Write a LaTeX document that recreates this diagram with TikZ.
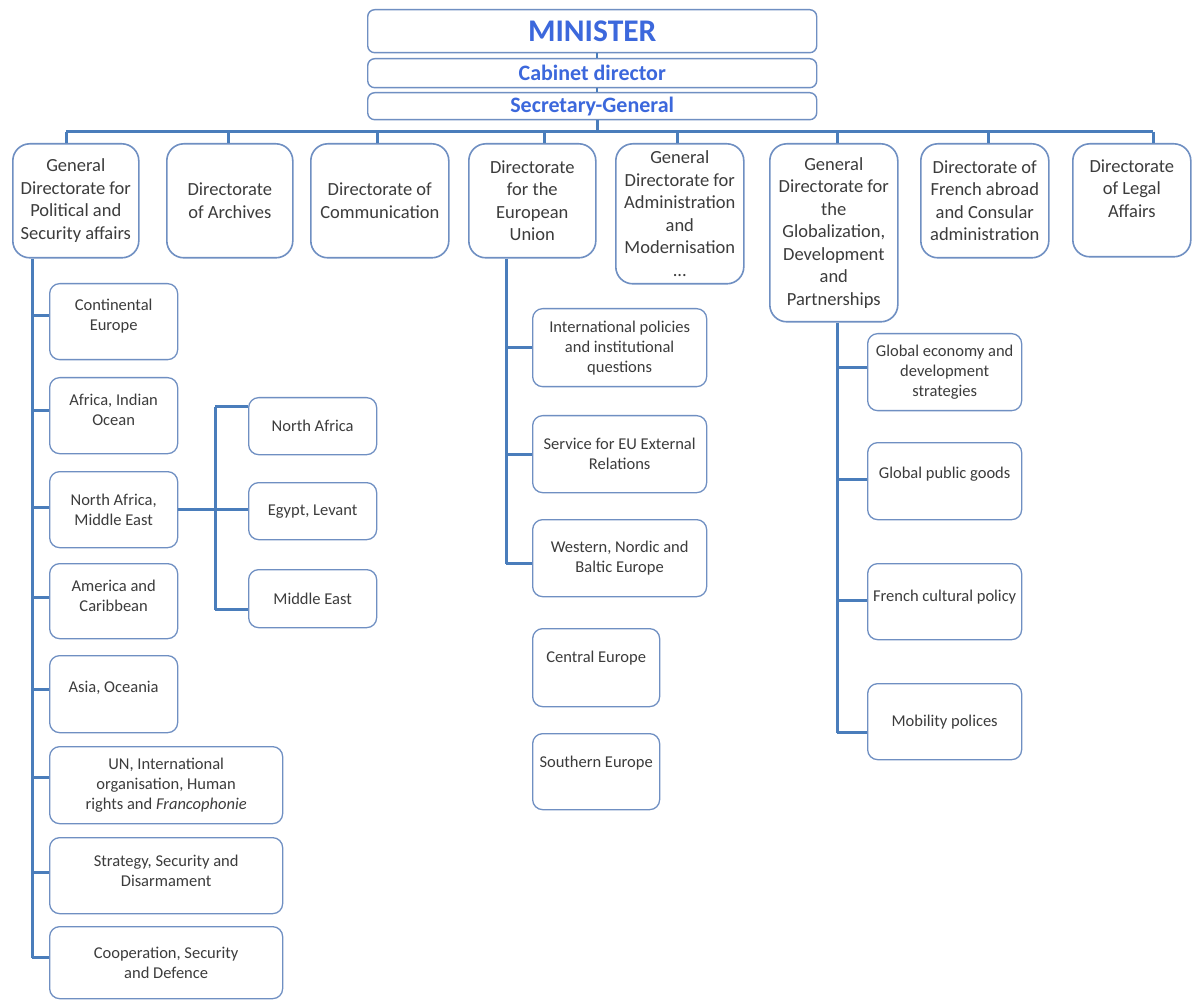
\documentclass[tikz,border=0pt]{standalone}
\usepackage{fontspec}
\setmainfont{Carlito}
\definecolor{linkblue}{HTML}{4A7DBB}
\definecolor{boxblue}{HTML}{6F8FC2}
\definecolor{headblue}{HTML}{3C68DC}
\definecolor{txtgray}{HTML}{3C3C3C}
\begin{document}
\begin{tikzpicture}[x=1pt,y=-1pt,
  link/.style={draw=linkblue, line width=3pt},
  thinlink/.style={draw=linkblue, line width=2pt},
  headbox/.style={draw=boxblue, line width=1.4pt, rounded corners=7pt, anchor=north west,
    inner sep=0pt, text=headblue, minimum width=449pt},
  dirbox/.style={draw=boxblue, line width=1.6pt, rounded corners=17pt, anchor=north west,
    inner sep=0pt, align=center, text=txtgray, font=\fontsize{18.5}{22.5}\selectfont},
  subbox/.style={draw=boxblue, line width=1.3pt, rounded corners=10pt, anchor=north west,
    inner sep=0pt, align=center, text=txtgray, font=\fontsize{16.5}{20}\selectfont},
  lift/.style={text depth=#1},
  box/.style 2 args={minimum width=#1pt, minimum height=#2pt}
]
\useasboundingbox (0,0) rectangle (1195,1000);
\fill[white] (0,0) rectangle (1195,1000);

% ---- head of the ministry
\node[headbox, minimum height=43pt, font=\fontsize{31.5}{36}\selectfont\bfseries] (min) at (367,9) {MINISTER};
\node[headbox, minimum height=29pt, font=\fontsize{22}{26}\selectfont\bfseries] (cab) at (367,58) {Cabinet director};
\node[headbox, minimum height=27pt, font=\fontsize{22}{26}\selectfont\bfseries] (sg) at (367,92) {Secretary-General};

% ---- directorates
\node[dirbox, box={126}{114}] (d1) at (12,143) {General\\Directorate for\\Political and\\Security affairs};
\node[dirbox, box={126}{114}] (d2) at (166,143) {Directorate\\of Archives};
\node[dirbox, box={138}{114}] (d3) at (310,143) {Directorate of\\Communication};
\node[dirbox, box={127}{114}] (d4) at (468,143) {Directorate\\for the\\European\\Union};
\node[dirbox, box={128}{140}] (d5) at (615,143) {General\\Directorate for\\Administration\\and\\Modernisation\\...};
\node[dirbox, box={128}{178}] (d6) at (769,143) {General\\Directorate for\\the\\Globalization,\\Development\\and\\Partnerships};
\node[dirbox, box={128}{114}] (d7) at (920,143) {Directorate of\\French abroad\\and Consular\\administration};
\node[dirbox, box={118}{113}, lift=24pt] (d8) at (1072,143) {Directorate\\of Legal\\Affairs};

% ---- political and security affairs
\node[subbox, box={128}{76}, lift=14pt] (s1) at (49,283) {Continental\\Europe};
\node[subbox, box={128}{76}, lift=12pt] (s2) at (49,377) {Africa, Indian\\Ocean};
\node[subbox, box={128}{76}] (s3) at (49,471) {North Africa,\\Middle East};
\node[subbox, box={128}{75}, lift=10pt] (s4) at (49,563) {America and\\Caribbean};
\node[subbox, box={128}{77}, lift=14pt] (s5) at (49,655) {Asia, Oceania};
\node[subbox, box={233}{77}] (s6) at (49,746) {UN, International\\organisation, Human\\rights and \textit{Francophonie}};
\node[subbox, box={233}{76}, lift=10pt] (s7) at (49,837) {Strategy, Security and\\Disarmament};
\node[subbox, box={233}{72}] (s8) at (49,926) {Cooperation, Security\\and Defence};

\node[subbox, box={128}{57}] (n1) at (248,397) {North Africa};
\node[subbox, box={128}{57}] (n2) at (248,482) {Egypt, Levant};
\node[subbox, box={128}{58}] (n3) at (248,569) {Middle East};

% ---- European Union
\node[subbox, box={174}{78}] (e1) at (532,308) {International policies\\and institutional\\questions};
\node[subbox, box={174}{77}] (e2) at (532,415) {Service for EU External\\Relations};
\node[subbox, box={174}{77}] (e3) at (532,519) {Western, Nordic and\\Baltic Europe};
\node[subbox, box={127}{78}, lift=22pt] (e4) at (532,628) {Central Europe};
\node[subbox, box={127}{76}, lift=20pt] (e5) at (532,733) {Southern Europe};

% ---- globalization, development and partnerships
\node[subbox, box={154}{77}] (g1) at (867,333) {Global economy and\\development\\strategies};
\node[subbox, box={154}{77}, lift=16pt] (g2) at (867,442) {Global public goods};
\node[subbox, box={154}{76}, lift=12pt] (g3) at (867,563) {French cultural policy};
\node[subbox, box={154}{76}] (g4) at (867,683) {Mobility polices};

% ---- connectors of the head
\coordinate (tick) at (597,0);
\coordinate (busl) at (66,132);
\coordinate (busr) at (1153,132);
\draw[thinlink] (min.south -| tick) -- (cab.north -| tick);
\draw[thinlink] (cab.south -| tick) -- (sg.north -| tick);
\draw[link] (sg.south -| tick) -- (busl -| tick);
\draw[link] (busl) -- (busr);

% drops to the directorates
\coordinate (x1) at (66,132);
\coordinate (x2) at (228,132);
\coordinate (x3) at (377,132);
\coordinate (x4) at (544,132);
\coordinate (x5) at (677,132);
\coordinate (x6) at (837,132);
\coordinate (x7) at (988,132);
\coordinate (x8) at (1153,132);
\draw[link] (x1) -- (x1 |- d1.north);
\draw[link] (x2) -- (x2 |- d2.north);
\draw[link] (x3) -- (x3 |- d3.north);
\draw[link] (x4) -- (x4 |- d4.north);
\draw[link] (x5) -- (x5 |- d5.north);
\draw[link] (x6) -- (x6 |- d6.north);
\draw[link] (x7) -- (x7 |- d7.north);
\draw[link] (x8) -- (x8 |- d8.north);

% ---- left spine
\coordinate (lsp) at (32,0);
\draw[link] (d1.south -| lsp) -- ([yshift=5pt]s8.west -| lsp);
\foreach \n/\s in {s1/6,s2/5,s3/2,s4/3.5,s5/4.5,s6/7.5,s7/3,s8/5}
  \draw[link] ([yshift=\s pt]\n.west -| lsp) -- ([yshift=\s pt]\n.west);

% north africa / middle east group
\coordinate (nsp) at (215,0);
\draw[link] (s3.east) -- (s3.east -| n2.west);
\draw[link] ([yshift=19.5pt]n1.west -| nsp) -- ([yshift=-11pt]n3.west -| nsp);
\draw[link] ([yshift=19.5pt]n1.west -| nsp) -- ([yshift=19.5pt]n1.west);
\draw[link] ([yshift=-11pt]n3.west -| nsp) -- ([yshift=-11pt]n3.west);

% ---- middle spine
\coordinate (msp) at (506,0);
\draw[link] (d4.south -| msp) -- ([yshift=-5.5pt]e3.west -| msp);
\draw[link] (e1.west -| msp) -- (e1.west);
\draw[link] (e2.west -| msp) -- (e2.west);
\draw[link] ([yshift=-5.5pt]e3.west -| msp) -- ([yshift=-5.5pt]e3.west);

% ---- right spine
\coordinate (rsp) at (837,0);
\draw[link] (d6.south -| rsp) -- ([yshift=-11pt]g4.west -| rsp);
\draw[link] ([yshift=4.5pt]g1.west -| rsp) -- ([yshift=4.5pt]g1.west);
\draw[link] ([yshift=1.5pt]g2.west -| rsp) -- ([yshift=1.5pt]g2.west);
\draw[link] ([yshift=1pt]g3.west -| rsp) -- ([yshift=1pt]g3.west);
\draw[link] ([yshift=-11pt]g4.west -| rsp) -- ([yshift=-11pt]g4.west);
\end{tikzpicture}
\end{document}
